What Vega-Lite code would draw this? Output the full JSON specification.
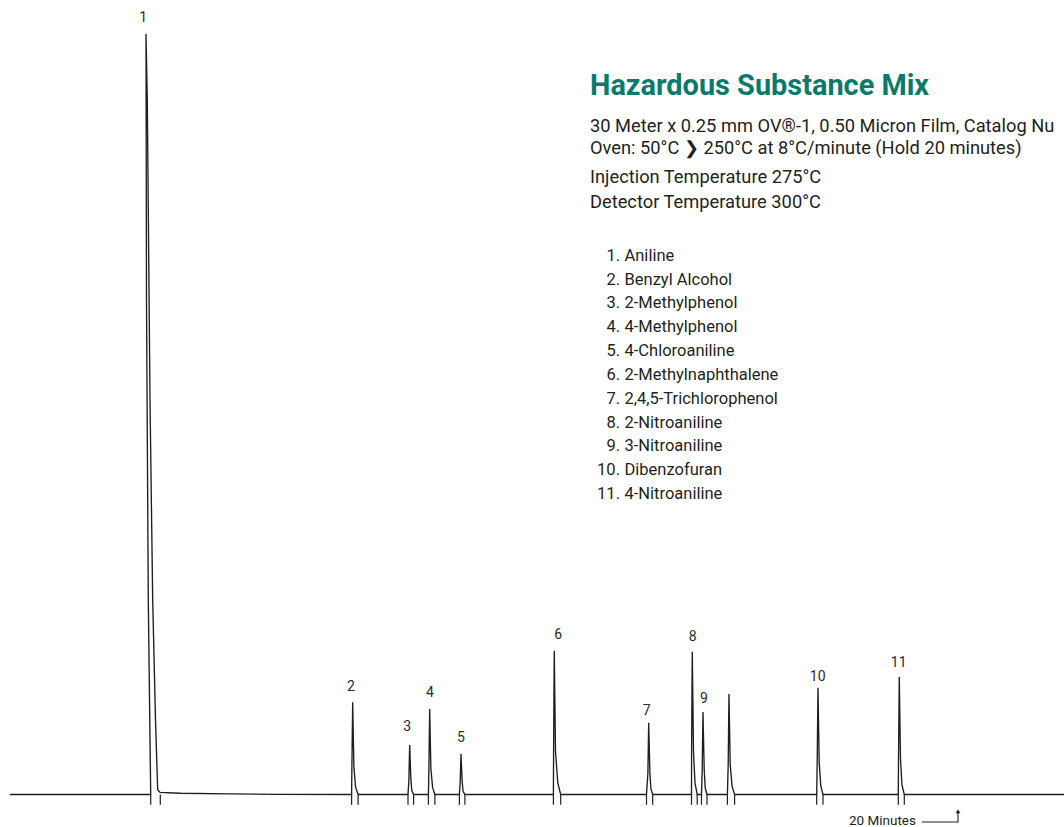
{
  "$schema": "https://vega.github.io/schema/vega-lite/v6.json",
  "width": 1064,
  "height": 827,
  "padding": 0,
  "autosize": {"type": "none"},
  "background": "white",
  "config": {"view": {"stroke": null}},
  "datasets": {
    "trace": [
      {"t": 0, "s": 0},
      {"t": 2.9684, "s": 0}, {"t": 2.9177, "s": 25.575}, {"t": 2.8797, "s": 65.023}, {"t": 2.8692, "s": 100}, {"t": 2.8966, "s": 91.321}, {"t": 2.9536, "s": 51.874}, {"t": 3.0105, "s": 25.575}, {"t": 3.0696, "s": 9.796}, {"t": 3.116, "s": 0.592}, {"t": 3.1646, "s": 0.289}, {"t": 3.6, "s": 0.17}, {"t": 4.6, "s": 0.08}, {"t": 5.6, "s": 0.02},
      {"t": 7.2067, "s": 0}, {"t": 7.2131, "s": 3.64}, {"t": 7.2236, "s": 9.09}, {"t": 7.2299, "s": 12.12}, {"t": 7.2384, "s": 9.09}, {"t": 7.2553, "s": 3.64}, {"t": 7.2911, "s": 0.97}, {"t": 7.3439, "s": 0},
      {"t": 8.3966, "s": 0}, {"t": 8.4156, "s": 1.95}, {"t": 8.4261, "s": 4.88}, {"t": 8.4325, "s": 6.51}, {"t": 8.4409, "s": 4.88}, {"t": 8.4578, "s": 1.95}, {"t": 8.4768, "s": 0.52}, {"t": 8.5147, "s": 0},
      {"t": 8.827, "s": 0}, {"t": 8.8375, "s": 3.37}, {"t": 8.8481, "s": 8.43}, {"t": 8.8544, "s": 11.24}, {"t": 8.8628, "s": 8.43}, {"t": 8.8797, "s": 3.37}, {"t": 8.9156, "s": 0.9}, {"t": 8.9641, "s": 0},
      {"t": 9.481, "s": 0}, {"t": 9.4979, "s": 1.6}, {"t": 9.5084, "s": 4.0}, {"t": 9.5147, "s": 5.33}, {"t": 9.5232, "s": 4.0}, {"t": 9.5401, "s": 1.6}, {"t": 9.5591, "s": 0.43}, {"t": 9.597, "s": 0},
      {"t": 11.4641, "s": 0}, {"t": 11.4683, "s": 5.66}, {"t": 11.4768, "s": 14.15}, {"t": 11.4831, "s": 18.87}, {"t": 11.4915, "s": 14.15}, {"t": 11.5084, "s": 5.66}, {"t": 11.5569, "s": 1.51}, {"t": 11.6181, "s": 0},
      {"t": 13.4282, "s": 0}, {"t": 13.4578, "s": 2.83}, {"t": 13.4683, "s": 7.08}, {"t": 13.4747, "s": 9.44}, {"t": 13.4831, "s": 7.08}, {"t": 13.5, "s": 2.83}, {"t": 13.5211, "s": 0.76}, {"t": 13.559, "s": 0},
      {"t": 14.3776, "s": 0}, {"t": 14.3797, "s": 5.63}, {"t": 14.3882, "s": 14.09}, {"t": 14.3945, "s": 18.78}, {"t": 14.4029, "s": 14.09}, {"t": 14.4198, "s": 5.63}, {"t": 14.4514, "s": 1.5}, {"t": 14.4979, "s": 0},
      {"t": 14.5886, "s": 0}, {"t": 14.6033, "s": 3.26}, {"t": 14.6139, "s": 8.14}, {"t": 14.6202, "s": 10.85}, {"t": 14.6287, "s": 8.14}, {"t": 14.6455, "s": 3.26}, {"t": 14.6666, "s": 0.87}, {"t": 14.7046, "s": 0},
      {"t": 15.135, "s": 0}, {"t": 15.1519, "s": 3.96}, {"t": 15.1624, "s": 9.91}, {"t": 15.1687, "s": 13.21}, {"t": 15.1772, "s": 9.91}, {"t": 15.1941, "s": 3.96}, {"t": 15.2341, "s": 1.06}, {"t": 15.2869, "s": 0},
      {"t": 17.0189, "s": 0}, {"t": 17.0295, "s": 4.21}, {"t": 17.04, "s": 10.53}, {"t": 17.0464, "s": 14.04}, {"t": 17.0548, "s": 10.53}, {"t": 17.0717, "s": 4.21}, {"t": 17.1054, "s": 1.12}, {"t": 17.1519, "s": 0},
      {"t": 18.7405, "s": 0}, {"t": 18.7447, "s": 4.64}, {"t": 18.7552, "s": 11.59}, {"t": 18.7616, "s": 15.45}, {"t": 18.77, "s": 11.59}, {"t": 18.7869, "s": 4.64}, {"t": 18.8185, "s": 1.24}, {"t": 18.867, "s": 0},
      {"t": 22.24, "s": 0}
    ],
    "ticks": [
      {"t": 2.9684}, {"t": 3.1709}, {"t": 7.2067}, {"t": 7.3439}, {"t": 8.3966}, {"t": 8.5147},
      {"t": 8.827}, {"t": 8.9641}, {"t": 9.481}, {"t": 9.597}, {"t": 11.4641}, {"t": 11.6181},
      {"t": 13.4282}, {"t": 13.559}, {"t": 14.3776}, {"t": 14.4979}, {"t": 14.5886}, {"t": 14.7046},
      {"t": 15.135}, {"t": 15.2869}, {"t": 17.0189}, {"t": 17.1519}, {"t": 18.7405}, {"t": 18.867}
    ],
    "peaks": [
      {"label": "1", "t": 2.8122, "s": 102.104},
      {"label": "2", "t": 7.1941, "s": 14.135},
      {"label": "3", "t": 8.3818, "s": 8.915},
      {"label": "4", "t": 8.8607, "s": 13.307},
      {"label": "5", "t": 9.5147, "s": 7.39},
      {"label": "6", "t": 11.5675, "s": 20.973},
      {"label": "7", "t": 13.4325, "s": 11.019},
      {"label": "8", "t": 14.4029, "s": 20.671},
      {"label": "9", "t": 14.6413, "s": 12.597},
      {"label": "10", "t": 17.04, "s": 15.411},
      {"label": "11", "t": 18.7489, "s": 17.331}
    ],
    "title": [
      {"text": "Hazardous Substance Mix", "t": 12.2363, "s": 91.979}
    ],
    "info": [
      {"text": "30 Meter x 0.25 mm OV®-1, 0.50 Micron Film, Catalog Nu", "t": 12.2363, "s": 87.153},
      {"text": "Oven: 50°C ❯ 250°C at 8°C/minute (Hold 20 minutes)", "t": 12.2363, "s": 84.181},
      {"text": "Injection Temperature 275°C", "t": 12.2363, "s": 80.447},
      {"text": "Detector Temperature 300°C", "t": 12.2363, "s": 77.081}
    ],
    "compounds": [
      {"num": "1.", "name": "Aniline", "s": 70.191},
      {"num": "2.", "name": "Benzyl Alcohol", "s": 67.054},
      {"num": "3.", "name": "2-Methylphenol", "s": 63.918},
      {"num": "4.", "name": "4-Methylphenol", "s": 60.782},
      {"num": "5.", "name": "4-Chloroaniline", "s": 57.646},
      {"num": "6.", "name": "2-Methylnaphthalene", "s": 54.51},
      {"num": "7.", "name": "2,4,5-Trichlorophenol", "s": 51.374},
      {"num": "8.", "name": "2-Nitroaniline", "s": 48.238},
      {"num": "9.", "name": "3-Nitroaniline", "s": 45.102},
      {"num": "10.", "name": "Dibenzofuran", "s": 41.966},
      {"num": "11.", "name": "4-Nitroaniline", "s": 38.83}
    ],
    "marker": [
      {"text": "20 Minutes", "t": 19.1139, "s": -3.485, "t0": 19.2405, "t1": 20, "sBase": -3.616, "sTip": -2.2}
    ]
  },
  "layer": [
    {
      "data": {"name": "trace"},
      "mark": {"type": "line", "stroke": "#1e1e1e", "strokeWidth": 1.35, "interpolate": "linear"},
      "encoding": {
        "x": {"field": "t", "type": "quantitative", "scale": {"domain": [-0.21097, 22.23629], "nice": false, "zero": false}, "axis": null},
        "y": {"field": "s", "type": "quantitative", "scale": {"domain": [-4.2735, 104.4707], "nice": false, "zero": false}, "axis": null},
        "order": {"value": null}
      }
    },
    {
      "data": {"name": "ticks"},
      "mark": {"type": "rule", "stroke": "#1e1e1e", "strokeWidth": 1.2},
      "encoding": {
        "x": {"field": "t", "type": "quantitative"},
        "y": {"datum": 0},
        "y2": {"datum": -1.35}
      }
    },
    {
      "data": {"name": "peaks"},
      "mark": {"type": "text", "font": "Roboto", "fontSize": 14, "fill": "#2a2a2a", "align": "center", "baseline": "middle"},
      "encoding": {
        "x": {"field": "t", "type": "quantitative"},
        "y": {"field": "s", "type": "quantitative"},
        "text": {"field": "label"}
      }
    },
    {
      "data": {"name": "title"},
      "mark": {"type": "text", "font": "Roboto", "fontSize": 28.9, "fontWeight": "bold", "fill": "#0a7a6c", "align": "left", "baseline": "alphabetic"},
      "encoding": {
        "x": {"field": "t", "type": "quantitative"},
        "y": {"field": "s", "type": "quantitative"},
        "text": {"field": "text"}
      }
    },
    {
      "data": {"name": "info"},
      "mark": {"type": "text", "font": "Roboto", "fontSize": 18.3, "fill": "#231f20", "align": "left", "baseline": "alphabetic"},
      "encoding": {
        "x": {"field": "t", "type": "quantitative"},
        "y": {"field": "s", "type": "quantitative"},
        "text": {"field": "text"}
      }
    },
    {
      "data": {"name": "compounds"},
      "mark": {"type": "text", "font": "Roboto", "fontSize": 16.5, "fill": "#231f20", "align": "right", "baseline": "alphabetic"},
      "encoding": {
        "x": {"datum": 12.8692, "type": "quantitative"},
        "y": {"field": "s", "type": "quantitative"},
        "text": {"field": "num"}
      }
    },
    {
      "data": {"name": "compounds"},
      "mark": {"type": "text", "font": "Roboto", "fontSize": 16.5, "fill": "#231f20", "align": "left", "baseline": "alphabetic"},
      "encoding": {
        "x": {"datum": 12.9641, "type": "quantitative"},
        "y": {"field": "s", "type": "quantitative"},
        "text": {"field": "name"}
      }
    },
    {
      "data": {"name": "marker"},
      "mark": {"type": "text", "font": "Roboto", "fontSize": 13.5, "fill": "#231f20", "align": "right", "baseline": "middle"},
      "encoding": {
        "x": {"field": "t", "type": "quantitative"},
        "y": {"field": "s", "type": "quantitative"},
        "text": {"field": "text"}
      }
    },
    {
      "data": {"name": "marker"},
      "mark": {"type": "rule", "stroke": "#1e1e1e", "strokeWidth": 1.1},
      "encoding": {
        "x": {"field": "t0", "type": "quantitative"},
        "x2": {"field": "t1"},
        "y": {"field": "sBase", "type": "quantitative"}
      }
    },
    {
      "data": {"name": "marker"},
      "mark": {"type": "rule", "stroke": "#1e1e1e", "strokeWidth": 1.1},
      "encoding": {
        "x": {"field": "t1", "type": "quantitative"},
        "y": {"field": "sBase", "type": "quantitative"},
        "y2": {"field": "sTip"}
      }
    },
    {
      "data": {"name": "marker"},
      "mark": {"type": "point", "shape": "triangle-up", "filled": true, "fill": "#1e1e1e", "size": 22, "opacity": 1},
      "encoding": {
        "x": {"field": "t1", "type": "quantitative"},
        "y": {"field": "sTip", "type": "quantitative"}
      }
    }
  ]
}
